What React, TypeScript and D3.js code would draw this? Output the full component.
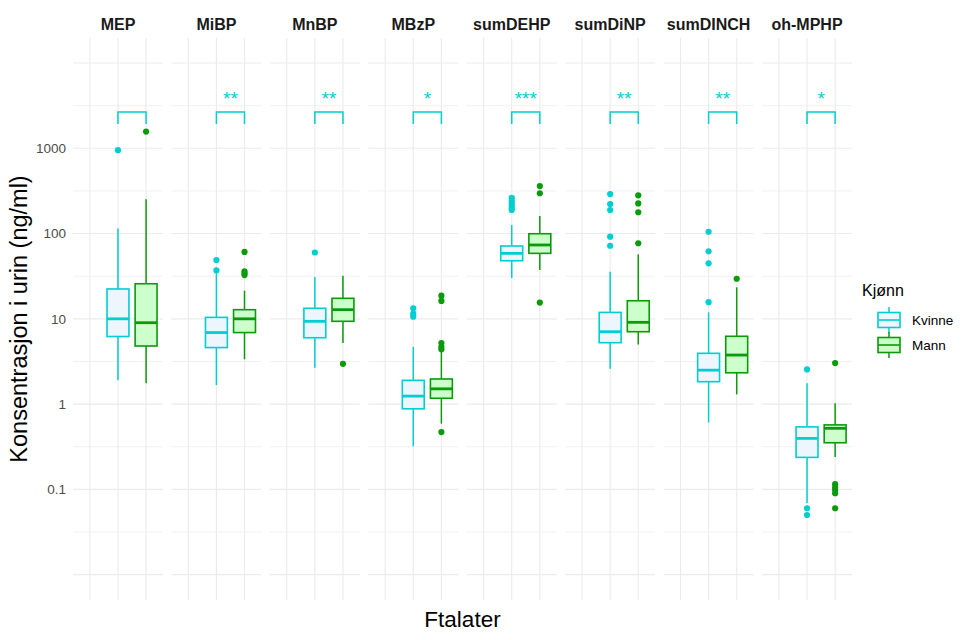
import React from "react";
import * as d3 from "d3";

const phthalates = ["MEP", "MiBP", "MnBP", "MBzP", "sumDEHP", "sumDiNP", "sumDINCH", "oh-MPHP"];
const genders = ["Kvinne", "Mann"];
const significance = ["", "**", "**", "*", "***", "**", "**", "*"];

// Kvinne box stats: [whiskerLow, q1, median, q3, whiskerHigh]
const kvinneStats = [
  [1.9, 6.2, 10, 22.4, 115],
  [1.67, 4.6, 6.9, 10.4, 34],
  [2.67, 6.0, 9.35, 13.3, 31],
  [0.32, 0.88, 1.24, 1.9, 4.7],
  [30, 48, 58.6, 71.5, 126],
  [2.6, 5.25, 7.06, 11.9, 35.7],
  [0.61, 1.83, 2.5, 3.94, 11.9],
  [0.069, 0.237, 0.396, 0.54, 1.75],
];
const mannStats = [
  [1.75, 4.8, 9, 25.8, 252],
  [3.35, 6.9, 10, 12.8, 21.4],
  [5.2, 9.35, 12.8, 17.4, 32],
  [0.59, 1.17, 1.51, 1.97, 4.3],
  [37.3, 58.6, 73.5, 99.6, 161],
  [5.0, 7.06, 9.1, 16.3, 57],
  [1.3, 2.33, 3.76, 6.24, 23.4],
  [0.24, 0.352, 0.52, 0.57, 1.02],
];
const kvinneOutliers = [
  [950],
  [49, 37],
  [60],
  [13.3, 11.5, 10.6],
  [263, 245, 228, 212, 200, 189],
  [291, 222, 189, 92, 72],
  [105, 62, 44.8, 15.7],
  [2.55, 0.06, 0.05],
];
const mannOutliers = [
  [1570],
  [61, 36, 34, 32.6],
  [2.97],
  [18.7, 16.2, 5.2, 4.7, 4.4, 0.47],
  [361, 297, 15.5],
  [281, 226, 178, 77],
  [29.5],
  [3.03, 0.115, 0.105, 0.098, 0.09, 0.06],
];
const yTicks = [0.1, 1, 10, 100, 1000];
const yTickLabels = ["0.1", "1", "10", "100", "1000"];
const bracketLow = 1930;
const bracketHigh = 2670;

const W = 970;
const H = 640;
const panelLeft = 73;
const panelRight = 852;
const panelTop = 38;
const panelBottom = 600;
const panelGap = 8.5;

const colors = {
  Kvinne: { stroke: "#00CED1", fill: "#EEF6FD", point: "#00CED1" },
  Mann: { stroke: "#0A9A0A", fill: "#CCFFCC", point: "#0A9A0A" },
};

const font = "'Liberation Sans', Arial, Helvetica, sans-serif";

export default function App() {
  const nP = phthalates.length;
  const panelW = (panelRight - panelLeft - panelGap * (nP - 1)) / nP;
  const y = d3
    .scaleLog()
    .domain([Math.pow(10, -2.298), Math.pow(10, 4.294)])
    .range([panelBottom, panelTop]);

  const gridMajor: number[] = [];
  const gridMinor: number[] = [];
  for (let e = -2; e <= 4; e += 0.5) {
    const v = Math.pow(10, e);
    if (Number.isInteger(e)) gridMajor.push(v);
    else gridMinor.push(v);
  }

  const panels = phthalates.map((name, i) => {
    const x0 = panelLeft + i * (panelW + panelGap);
    const x = d3.scaleLinear().domain([0.4, 3.6]).range([x0, x0 + panelW]);
    const boxW = x(0.78) - x(0);
    const statsList = [kvinneStats[i], mannStats[i]];
    const outList = [kvinneOutliers[i], mannOutliers[i]];
    return (
      <g key={name}>
        {gridMinor.map((v) => (
          <line key={"mn" + v} x1={x0} x2={x0 + panelW} y1={y(v)} y2={y(v)} stroke="#EDEDED" strokeWidth={0.8} />
        ))}
        {gridMajor.map((v) => (
          <line key={"mj" + v} x1={x0} x2={x0 + panelW} y1={y(v)} y2={y(v)} stroke="#EBEBEB" strokeWidth={1.1} />
        ))}
        {[1, 2, 3].map((k) => (
          <line key={"v" + k} x1={x(k)} x2={x(k)} y1={panelTop} y2={panelBottom} stroke="#EBEBEB" strokeWidth={1.1} />
        ))}
        <text x={x0 + panelW / 2} y={30} textAnchor="middle" fontFamily={font} fontWeight="bold" fontSize={16} fill="#1a1a1a">
          {name}
        </text>
        {genders.map((g, gi) => {
          const s = statsList[gi];
          const c = colors[g as "Kvinne" | "Mann"];
          const cx = x(gi + 2);
          return (
            <g key={g}>
              <line x1={cx} x2={cx} y1={y(s[0])} y2={y(s[1])} stroke={c.stroke} strokeWidth={1.5} />
              <line x1={cx} x2={cx} y1={y(s[3])} y2={y(s[4])} stroke={c.stroke} strokeWidth={1.5} />
              <rect x={cx - boxW / 2} y={y(s[3])} width={boxW} height={y(s[1]) - y(s[3])} fill={c.fill} stroke={c.stroke} strokeWidth={1.6} />
              <line x1={cx - boxW / 2} x2={cx + boxW / 2} y1={y(s[2])} y2={y(s[2])} stroke={c.stroke} strokeWidth={2.8} />
              {outList[gi].map((v, k) => (
                <circle key={k} cx={cx} cy={y(v)} r={3.1} fill={c.point} />
              ))}
            </g>
          );
        })}
        <path
          d={`M${x(2)},${y(bracketLow)}V${y(bracketHigh)}H${x(3)}V${y(bracketLow)}`}
          fill="none"
          stroke="#00CED1"
          strokeWidth={1.5}
        />
        <text x={(x(2) + x(3)) / 2} y={105} textAnchor="middle" fontFamily={font} fontSize={19} fill="#00CED1">
          {significance[i]}
        </text>
      </g>
    );
  });

  return (
    <svg width={W} height={H} style={{ position: "absolute", left: 0, top: 0, background: "#fff" }}>
      <rect width={W} height={H} fill="#fff" />
      {panels}
      {yTicks.map((v, i) => (
        <text key={v} x={66} y={y(v)} dy="0.35em" textAnchor="end" fontFamily={font} fontSize={13.5} fill="#4D4D4D">
          {yTickLabels[i]}
        </text>
      ))}
      <text
        transform={`translate(${27},${(panelTop + panelBottom) / 2}) rotate(-90)`}
        textAnchor="middle"
        fontFamily={font}
        fontSize={23.5}
        fill="#000"
      >
        Konsentrasjon i urin (ng/ml)
      </text>
      <text x={(panelLeft + panelRight) / 2} y={627} textAnchor="middle" fontFamily={font} fontSize={22.5} fill="#000">
        Ftalater
      </text>
      <text x={862} y={296} fontFamily={font} fontSize={16} fill="#000">
        Kjønn
      </text>
      {genders.map((g, gi) => {
        const c = colors[g as "Kvinne" | "Mann"];
        const cy = 320 + gi * 25;
        const kx = 889;
        return (
          <g key={g}>
            <line x1={kx} x2={kx} y1={cy - 13} y2={cy + 13} stroke={c.stroke} strokeWidth={1.5} />
            <rect x={kx - 11} y={cy - 7.5} width={22} height={15} fill={c.fill} stroke={c.stroke} strokeWidth={1.6} />
            <line x1={kx - 11} x2={kx + 11} y1={cy} y2={cy} stroke={c.stroke} strokeWidth={1.6} />
            <text x={912} y={cy} dy="0.35em" fontFamily={font} fontSize={13.5} fill="#000">
              {g}
            </text>
          </g>
        );
      })}
    </svg>
  );
}
